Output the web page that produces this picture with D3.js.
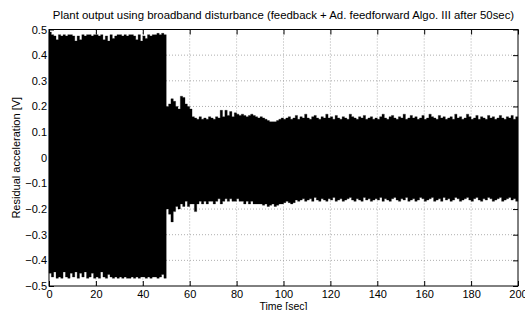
<!DOCTYPE html>
<html>
<head>
<meta charset="utf-8">
<script src="https://cdn.jsdelivr.net/npm/d3@7"></script>
<style>
body { margin: 0; background: #fff; }
text { font-family: "Liberation Sans", Arial, Helvetica, sans-serif; }
</style>
</head>
<body>
<svg></svg>
<script>
// envelope of the residual signal, one sample per second (t = 0 .. 199)
let upper = [
  0.49,0.48,0.475,0.46,0.48,0.475,0.48,0.475,0.48,0.48,
  0.475,0.455,0.475,0.46,0.48,0.475,0.48,0.48,0.475,0.48,
  0.48,0.475,0.48,0.46,0.475,0.455,0.48,0.465,0.475,0.48,
  0.48,0.475,0.48,0.475,0.48,0.48,0.475,0.46,0.48,0.455,
  0.475,0.465,0.48,0.475,0.48,0.48,0.485,0.48,0.485,0.48,
  0.20,0.21,0.23,0.22,0.20,0.19,0.24,0.235,0.21,0.20,
  0.19,0.16,0.155,0.15,0.16,0.15,0.155,0.15,0.16,0.155,
  0.15,0.16,0.155,0.185,0.16,0.185,0.165,0.18,0.16,0.175,
  0.17,0.165,0.17,0.165,0.16,0.165,0.17,0.165,0.16,0.155,
  0.16,0.155,0.15,0.145,0.14,0.14,0.14,0.145,0.15,0.155,
  0.15,0.155,0.16,0.15,0.155,0.165,0.15,0.16,0.155,0.17,
  0.155,0.15,0.16,0.165,0.155,0.15,0.16,0.155,0.17,0.155,
  0.16,0.15,0.165,0.155,0.15,0.16,0.155,0.15,0.17,0.16,
  0.155,0.15,0.16,0.155,0.165,0.15,0.155,0.16,0.15,0.155,
  0.15,0.16,0.17,0.155,0.15,0.16,0.165,0.155,0.15,0.16,
  0.155,0.17,0.15,0.155,0.165,0.155,0.16,0.15,0.155,0.165,
  0.15,0.155,0.17,0.16,0.155,0.15,0.165,0.155,0.16,0.15,
  0.155,0.16,0.15,0.17,0.155,0.16,0.15,0.155,0.17,0.16,
  0.15,0.155,0.165,0.15,0.16,0.155,0.15,0.165,0.155,0.16,
  0.15,0.155,0.165,0.155,0.15,0.16,0.155,0.165,0.15,0.16
]
let lower = [
  -0.45,-0.465,-0.445,-0.47,-0.465,-0.47,-0.445,-0.465,-0.47,-0.45,
  -0.465,-0.445,-0.47,-0.45,-0.465,-0.445,-0.47,-0.465,-0.45,-0.47,
  -0.465,-0.47,-0.445,-0.465,-0.47,-0.455,-0.465,-0.47,-0.465,-0.47,
  -0.465,-0.47,-0.465,-0.47,-0.47,-0.465,-0.47,-0.465,-0.47,-0.465,
  -0.465,-0.47,-0.465,-0.47,-0.465,-0.465,-0.47,-0.465,-0.455,-0.47,
  -0.20,-0.22,-0.25,-0.21,-0.19,-0.20,-0.18,-0.19,-0.17,-0.19,
  -0.18,-0.18,-0.21,-0.18,-0.17,-0.18,-0.17,-0.18,-0.17,-0.17,
  -0.18,-0.17,-0.16,-0.18,-0.17,-0.16,-0.17,-0.16,-0.17,-0.17,
  -0.16,-0.17,-0.17,-0.18,-0.17,-0.18,-0.17,-0.18,-0.18,-0.18,
  -0.18,-0.185,-0.18,-0.19,-0.185,-0.18,-0.19,-0.185,-0.18,-0.18,
  -0.175,-0.17,-0.175,-0.18,-0.175,-0.165,-0.17,-0.165,-0.16,-0.17,
  -0.165,-0.16,-0.17,-0.155,-0.165,-0.17,-0.16,-0.165,-0.17,-0.16,
  -0.165,-0.155,-0.17,-0.165,-0.16,-0.17,-0.165,-0.16,-0.155,-0.165,
  -0.17,-0.16,-0.165,-0.17,-0.155,-0.165,-0.16,-0.17,-0.165,-0.16,
  -0.165,-0.155,-0.17,-0.16,-0.165,-0.17,-0.16,-0.155,-0.165,-0.17,
  -0.16,-0.165,-0.155,-0.17,-0.165,-0.16,-0.17,-0.165,-0.155,-0.16,
  -0.17,-0.165,-0.16,-0.155,-0.17,-0.165,-0.16,-0.17,-0.155,-0.165,
  -0.16,-0.17,-0.165,-0.155,-0.16,-0.17,-0.165,-0.16,-0.155,-0.165,
  -0.17,-0.16,-0.155,-0.165,-0.17,-0.16,-0.165,-0.155,-0.16,-0.17,
  -0.165,-0.16,-0.155,-0.17,-0.165,-0.16,-0.155,-0.165,-0.16,-0.17
]
let xTicks = [0, 20, 40, 60, 80, 100, 120, 140, 160, 180, 200]
let yTicks = [-0.5, -0.4, -0.3, -0.2, -0.1, 0, 0.1, 0.2, 0.3, 0.4, 0.5]

let width = 525
let height = 310
let margin = {left: 49, right: 7, top: 29.5, bottom: 24}

let svg = d3.select('svg')
    .attr('width', width)
    .attr('height', height)

let xScale = d3.scaleLinear()
    .domain([0, 200])
    .range([margin.left, width - margin.right])

let yScale = d3.scaleLinear()
    .domain([-0.5, 0.5])
    .range([height - margin.bottom, margin.top])

let fmt = (d) => d === 0 ? '0' : d3.format('.1f')(d).replace('-', '\u2212')

// dotted grid
let grid = svg.append('g')
grid.selectAll('line.gx')
    .data(xTicks.slice(1, -1))
    .enter()
    .append('line')
    .attr('x1', d => xScale(d)).attr('x2', d => xScale(d))
    .attr('y1', margin.top).attr('y2', height - margin.bottom)
    .attr('stroke', '#999').attr('stroke-width', 0.8)
    .attr('stroke-dasharray', '1,2')
grid.selectAll('line.gy')
    .data(yTicks.slice(1, -1))
    .enter()
    .append('line')
    .attr('x1', margin.left).attr('x2', width - margin.right)
    .attr('y1', d => yScale(d)).attr('y2', d => yScale(d))
    .attr('stroke', '#999').attr('stroke-width', 0.8)
    .attr('stroke-dasharray', '1,2')

// signal envelope as a stepped area (one step per second)
let idx = d3.range(upper.length + 1)
let last = upper.length - 1
let area = d3.area()
    .curve(d3.curveStepAfter)
    .x(i => xScale(i))
    .y0(i => yScale(lower[Math.min(i, last)]))
    .y1(i => yScale(upper[Math.min(i, last)]))

svg.append('path')
    .datum(idx)
    .attr('d', area)
    .attr('fill', '#000')
    .attr('stroke', '#000')
    .attr('stroke-width', 0.3)

// axes, ticks inside on all four sides
let xAxis = d3.axisBottom(xScale).tickValues(xTicks).tickSizeInner(-5).tickSizeOuter(0).tickPadding(4).tickFormat(d => d)
let yAxis = d3.axisLeft(yScale).tickValues(yTicks).tickSizeInner(-5).tickSizeOuter(0).tickPadding(8).tickFormat(fmt)

svg.append('g')
    .attr('transform', 'translate(0,' + (height - margin.bottom) + ')')
    .call(xAxis)
    .call(g => g.selectAll('text').style('font-size', '11px').attr('fill', '#000'))
svg.append('g')
    .attr('transform', 'translate(' + margin.left + ',0)')
    .call(yAxis)
    .call(g => g.selectAll('text').style('font-size', '11px').attr('fill', '#000').attr('dx', 6))
svg.append('g')
    .attr('transform', 'translate(0,' + margin.top + ')')
    .call(d3.axisTop(xScale).tickValues(xTicks).tickSizeInner(-5).tickSizeOuter(0).tickFormat(''))
svg.append('g')
    .attr('transform', 'translate(' + (width - margin.right) + ',0)')
    .call(d3.axisRight(yScale).tickValues(yTicks).tickSizeInner(-5).tickSizeOuter(0).tickFormat(''))
svg.selectAll('.domain').remove()

svg.append('rect')
    .attr('x', margin.left).attr('y', margin.top)
    .attr('width', width - margin.left - margin.right)
    .attr('height', height - margin.top - margin.bottom)
    .attr('fill', 'none').attr('stroke', '#000').attr('stroke-width', 1)

svg.append('text')
    .attr('x', (xScale(0) + xScale(200)) / 2)
    .attr('y', 19)
    .attr('text-anchor', 'middle')
    .style('font-size', '11.4px')
    .text('Plant output using broadband disturbance (feedback + Ad. feedforward Algo. III after 50sec)')

svg.append('text')
    .attr('x', (xScale(0) + xScale(200)) / 2)
    .attr('y', 309.5)
    .attr('text-anchor', 'middle')
    .style('font-size', '10.5px')
    .text('Time [sec]')

svg.append('text')
    .attr('transform', 'translate(20,' + yScale(0) + ') rotate(-90)')
    .attr('text-anchor', 'middle')
    .style('font-size', '11px')
    .text('Residual acceleration [V]')
</script>
</body>
</html>
